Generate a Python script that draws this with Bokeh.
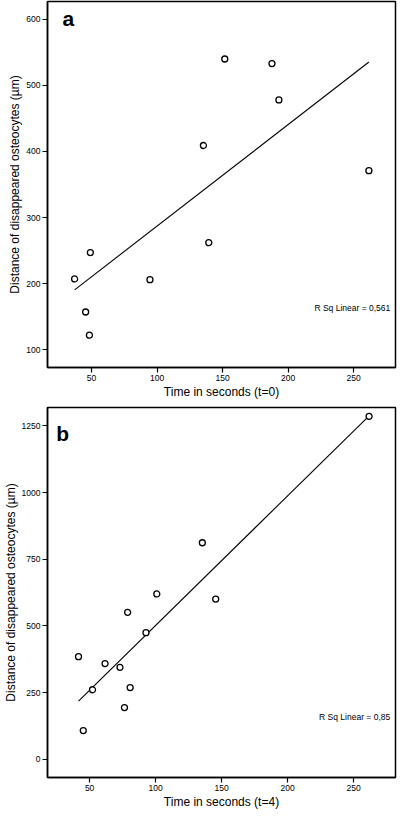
import numpy as np
from bokeh.plotting import figure
from bokeh.layouts import column
from bokeh.models import Label, FixedTicker, Range1d
from bokeh.embed import file_html
from bokeh.resources import INLINE

# Panel a (t=0)
time_t0 = [37.1, 49.1, 45.5, 48.4, 94.6, 139.5, 135.4, 151.7, 187.7, 193.0, 261.7]
dist_t0 = [207, 247, 157, 122, 206, 262, 409, 540, 533, 478, 371]
# Panel b (t=4)
time_t4 = [41.6, 45.2, 52.2, 61.7, 73.0, 76.4, 78.8, 80.7, 92.7, 100.9, 135.4, 145.5, 261.7]
dist_t4 = [385, 108, 261, 359, 345, 194, 551, 269, 475, 620, 812, 601, 1286]

x_ticks = [50, 100, 150, 200, 250]
y_ticks_a = [100, 200, 300, 400, 500, 600]
y_ticks_b = [0, 250, 500, 750, 1000, 1250]
r2_a = "R Sq Linear = 0,561"
r2_b = "R Sq Linear = 0,85"

FONT = "Liberation Sans"


def panel(xs, ys, xr, yr, yticks, xlabel, letter, letter_pos, r2, r2_y, h, top, bottom, left):
    p = figure(width=397, height=h, output_backend="svg", toolbar_location=None,
               x_range=Range1d(*xr), y_range=Range1d(*yr),
               min_border_top=top, min_border_bottom=bottom,
               min_border_left=left, min_border_right=2)
    p.grid.visible = False
    p.outline_line_color = "black"
    p.outline_line_width = 1.5
    p.background_fill_color = "white"
    p.border_fill_color = "white"
    for ax in (p.xaxis[0], p.yaxis[0]):
        ax.axis_line_width = 1.5
        ax.major_tick_line_width = 1.2
        ax.major_tick_out = 5
        ax.major_tick_in = 0
        ax.minor_tick_line_color = None
        ax.major_label_text_font = FONT
        ax.major_label_text_font_size = "8.5px"
        ax.major_label_text_color = "black"
        ax.axis_label_text_font = FONT
        ax.axis_label_text_font_size = "12px"
        ax.axis_label_text_font_style = "normal"
        ax.axis_label_text_color = "black"
        ax.major_label_standoff = 2
        ax.axis_label_standoff = 1
    p.xaxis.ticker = FixedTicker(ticks=x_ticks)
    p.yaxis.ticker = FixedTicker(ticks=yticks)
    p.xaxis.axis_label = xlabel
    p.yaxis.axis_label = "Distance of disappeared osteocytes (\u00b5m)"

    coef = np.polyfit(xs, ys, 1)
    lx = np.array([min(xs), max(xs)])
    p.line(lx, np.polyval(coef, lx), line_color="black", line_width=1.1)
    p.scatter(xs, ys, marker="circle", size=6, fill_color="white",
              line_color="black", line_width=1.3)

    p.add_layout(Label(x=letter_pos[0], y=letter_pos[1], text=letter,
                       text_font=FONT, text_font_size="21px",
                       text_font_style="bold", text_color="black",
                       text_baseline="alphabetic"))
    p.add_layout(Label(x=xr[1] - 4, y=r2_y, text=r2, text_font=FONT,
                       text_font_size="8.5px", text_color="black",
                       text_align="right", text_baseline="middle"))
    return p


pa = panel(time_t0, dist_t0, (16.4, 282), (73, 627), y_ticks_a,
           "Time in seconds (t=0)", "a", (27.8, 601), r2_a, 163,
           h=401, top=1, bottom=34, left=30)
pb = panel(time_t4, dist_t4, (18.1, 281.7), (-68, 1319), y_ticks_b,
           "Time in seconds (t=4)", "b", (24.8, 1223), r2_b, 159,
           h=410, top=6, bottom=30, left=34)

layout = column(pa, pb, spacing=0)
open("out.html", "w").write(file_html(layout, INLINE))
